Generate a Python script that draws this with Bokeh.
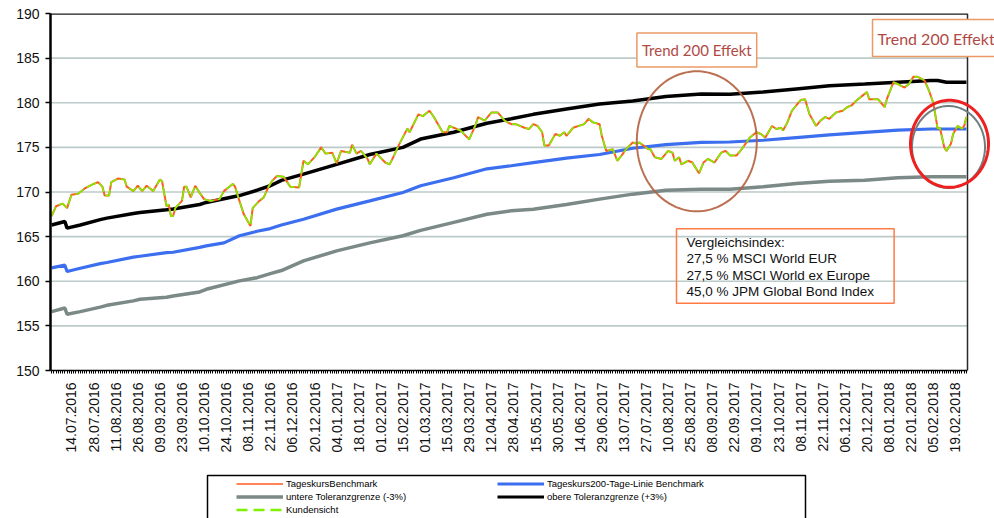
import numpy as np
from bokeh.plotting import figure
from bokeh.layouts import column
from bokeh.models import Range1d, FixedTicker, Legend, LegendItem, Label, PolyAnnotation
from bokeh.embed import file_html
from bokeh.resources import INLINE

# ---------------- data ----------------
tick_labels = ["14.07.2016", "28.07.2016", "11.08.2016", "26.08.2016", "09.09.2016", "23.09.2016",
               "10.10.2016", "24.10.2016", "08.11.2016", "22.11.2016", "06.12.2016", "20.12.2016",
               "04.01.2017", "18.01.2017", "01.02.2017", "15.02.2017", "01.03.2017", "15.03.2017",
               "29.03.2017", "12.04.2017", "28.04.2017", "15.05.2017", "30.05.2017", "14.06.2017",
               "29.06.2017", "13.07.2017", "27.07.2017", "10.08.2017", "25.08.2017", "08.09.2017",
               "22.09.2017", "09.10.2017", "23.10.2017", "08.11.2017", "22.11.2017", "06.12.2017",
               "20.12.2017", "08.01.2018", "22.01.2018", "05.02.2018", "19.02.2018"]
N_DAYS = 415            # trading days on the category axis
FIRST_LABEL_DAY = 9     # trading day of the first date label
LABEL_EVERY = 10        # a date label every 10 trading days

bench_day = [0, 2, 5, 7, 9, 12, 15, 19, 21, 23, 24, 26, 27, 30, 33, 34, 37, 39, 41, 43, 46, 49, 50,
             52, 53, 54, 55, 56, 59, 60, 61, 63, 65, 67, 69, 72, 76, 78, 82, 83, 85, 87, 90, 91, 94,
             96, 98, 100, 102, 105, 108, 112, 114, 116, 119, 122, 124, 127, 129, 131, 135, 136, 138,
             140, 143, 144, 147, 151, 153, 155, 157, 161, 162, 166, 168, 171, 173, 177, 179, 180, 185,
             189, 192, 193, 196, 199, 202, 205, 208, 210, 214, 216, 218, 220, 222, 223, 225, 228, 230,
             232, 233, 236, 241, 243, 245, 248, 249, 251, 254, 256, 258, 260, 263, 265, 266, 270, 271,
             273, 276, 279, 281, 282, 284, 285, 288, 290, 291, 293, 295, 297, 300, 303, 305, 307, 310,
             312, 314, 316, 319, 321, 323, 326, 328, 330, 331, 333, 335, 337, 339, 341, 343, 346, 348,
             350, 352, 355, 358, 360, 362, 364, 367, 369, 370, 374, 377, 378, 381, 383, 386, 388, 390,
             392, 395, 397, 399, 401, 402, 404, 405, 407, 408, 410, 412, 413, 414]
bench_val = [167.3, 168.4, 168.7, 168.2, 169.7, 169.8, 170.4, 170.9, 171.1, 170.6, 169.6, 169.6, 171.1,
             171.5, 171.4, 170.6, 170.1, 170.7, 170.1, 170.7, 170.1, 171.4, 171.2,
             168.4, 168.6, 167.3, 167.3, 168.2, 169.0, 170.6, 170.6, 169.4, 170.7, 169.9, 169.2, 169.0,
             169.2, 170.1, 170.9, 170.6, 169.0, 167.5, 166.2, 168.2, 169.0,
             169.4, 170.5, 171.3, 171.8, 171.7, 170.6, 170.5, 173.5, 173.1, 173.9, 175.0, 174.3, 174.4,
             173.2, 174.6, 174.4, 175.3, 174.3,
             174.6, 173.7, 173.1, 174.3, 173.3, 173.1, 174.1, 175.2, 177.1, 176.7, 178.7, 178.5, 179.1,
             178.4, 176.7, 176.7, 177.4, 176.9,
             175.9, 177.6, 178.4, 178.0, 178.9, 178.9, 178.0, 177.6, 177.6, 177.2, 177.05, 177.6, 177.4,
             176.7, 175.2, 175.2, 176.5, 176.3,
             176.7, 176.3, 177.2, 177.6, 178.2, 177.8, 177.6, 176.3, 174.6, 174.8, 173.5, 174.1, 174.8,
             175.55, 175.4, 175.55, 174.8, 174.8,
             173.9, 173.7, 174.6, 174.4, 173.5, 173.9, 173.1, 173.5, 173.3, 172.9, 172.1, 173.3, 173.7,
             173.3, 174.4, 174.6, 174.1, 174.1,
             174.7, 175.4, 176.1, 176.7, 176.5, 176.1, 177.4, 177.06, 177.2, 176.9, 177.8, 179.1, 179.7,
             180.3, 180.4, 178.7, 177.4, 178.0,
             178.4, 178.2, 178.9, 179.1, 179.5, 179.7, 180.2, 180.8, 181.2, 180.4, 180.4, 179.5, 180.4,
             182.3, 182.1, 181.7, 182.1, 182.9,
             182.9, 182.5, 181.4, 180.0, 177.1, 177.2, 175.0, 174.6, 175.4, 176.5, 177.4, 177.1, 177.4,
             178.4]

kunden_day = bench_day      # Kundensicht lies on top of the benchmark
kunden_val = bench_val

ma_day = [0, 6, 7, 13, 22, 25, 37, 40, 52, 55, 67, 70, 78, 85, 93, 99, 104, 114, 129, 144, 159, 167,
          182, 197, 208, 218, 233, 248, 263, 278, 294, 307, 322, 337, 352, 368, 383, 398, 414]
ma_val = [161.5, 161.8, 161.1, 161.46, 161.98, 162.1, 162.7, 162.8, 163.2, 163.25, 163.8, 163.97,
          164.3, 165.09, 165.6, 165.9, 166.3, 166.95, 168.08, 169.0, 169.95, 170.7, 171.6, 172.6,
          172.94, 173.3, 173.8, 174.2, 174.9, 175.3, 175.55, 175.6, 175.8, 176.1, 176.4, 176.68,
          176.94, 177.06, 177.06]

upper_day = [0, 6, 7, 13, 22, 25, 37, 40, 52, 55, 67, 70, 85, 93, 99, 104, 114, 129, 144, 159, 167,
             182, 197, 208, 218, 233, 248, 263, 278, 294, 307, 322, 337, 352, 368, 383, 398, 401, 405, 414]
upper_val = [166.3, 166.7, 165.95, 166.3, 166.9, 167.07, 167.6, 167.7, 168.0, 168.1, 168.6, 168.83,
             169.6, 170.2, 170.7, 171.3, 172.0, 173.1, 174.2, 175.0, 175.93, 176.7, 177.7, 178.2,
             178.7, 179.3, 179.86, 180.2, 180.7, 180.98, 180.95, 181.2, 181.55, 181.9, 182.1, 182.3,
             182.5, 182.5, 182.3, 182.3]

lower_day = [0, 6, 7, 13, 22, 25, 37, 40, 52, 55, 67, 70, 85, 93, 99, 104, 114, 129, 144, 159, 167,
             182, 197, 208, 218, 233, 248, 263, 278, 294, 307, 322, 337, 352, 368, 383, 398, 414]
lower_val = [156.6, 157.0, 156.3, 156.6, 157.1, 157.3, 157.8, 157.98, 158.2, 158.35, 158.8, 159.1,
             160.04, 160.4, 160.86, 161.2, 162.28, 163.4, 164.3, 165.1, 165.7, 166.6, 167.5, 167.9,
             168.07, 168.6, 169.2, 169.76, 170.2, 170.3, 170.32, 170.6, 170.96, 171.2, 171.33, 171.6,
             171.7, 171.7]

y_ticks = [150, 155, 160, 165, 170, 175, 180, 185, 190]

legend_labels = ["TageskursBenchmark", "Tageskurs200-Tage-Linie Benchmark",
                 "untere Toleranzgrenze (-3%)", "obere Toleranzgrenze (+3%)", "Kundensicht"]
note_lines = ["Vergleichsindex:", "27,5 % MSCI World EUR", "27,5 % MSCI World ex Europe",
              "45,0 % JPM Global Bond Index"]
trend_text = "Trend 200 Effekt"

# ---------------- layout ----------------
W = 994
H_MAIN, H_LEG = 470, 48
LEFT, TOP = 50, 13
PLOT_W, FRAME_H = 917, 357          # width of the drawn chart area, frame height
FRAME_W = W - LEFT                  # frame runs to the right edge so call-outs can overflow
BOTTOM = H_MAIN - TOP - FRAME_H
Y0, Y1 = 150, 190
PX_PER_DAY = PLOT_W / N_DAYS
X_START, X_END = -0.5, N_DAYS - 0.5

C_BENCH, C_KUNDE, C_MA, C_LOW, C_UP = "#ff5a1f", "#7ff000", "#3b6ff0", "#7b8987", "black"


def px2x(px):
    return (px - LEFT) / PX_PER_DAY - 0.5


def py2y(py):
    return Y1 - (py - TOP) * (Y1 - Y0) / FRAME_H


p = figure(width=W, height=H_MAIN, output_backend="svg", toolbar_location=None,
           x_range=Range1d(X_START, X_START + FRAME_W / PX_PER_DAY), y_range=Range1d(Y0, Y1),
           min_border_left=LEFT, min_border_right=0, min_border_top=TOP,
           min_border_bottom=BOTTOM)
p.background_fill_color = "white"
p.border_fill_color = "white"
p.outline_line_color = None

# axes
label_day = [FIRST_LABEL_DAY + LABEL_EVERY * i for i in range(len(tick_labels))]
p.xaxis.bounds = (X_START, X_END)
p.xaxis.ticker = FixedTicker(ticks=label_day, minor_ticks=list(range(N_DAYS)))
p.xaxis.major_label_overrides = {d: t for d, t in zip(label_day, tick_labels)}
p.xaxis.major_label_orientation = np.pi / 2
p.xaxis.major_label_text_font = "Liberation Sans"
p.xaxis.major_label_text_font_size = "14px"
p.xaxis.major_label_text_color = "#111111"
p.xaxis.major_label_standoff = 9
p.xaxis.major_tick_in = 0
p.xaxis.major_tick_out = 3
p.xaxis.minor_tick_in = 0
p.xaxis.minor_tick_out = 3
p.xaxis.major_tick_line_color = "black"
p.xaxis.minor_tick_line_color = "black"
p.xaxis.axis_line_color = "black"
p.xaxis.axis_line_width = 1.5

p.yaxis.ticker = FixedTicker(ticks=y_ticks, minor_ticks=[])
p.yaxis.major_label_text_font = "Liberation Sans"
p.yaxis.major_label_text_font_size = "14px"
p.yaxis.major_label_text_color = "#111111"
p.yaxis.major_label_standoff = 6
p.yaxis.major_tick_in = 0
p.yaxis.major_tick_out = 5
p.yaxis.major_tick_line_width = 1.5
p.yaxis.axis_line_width = 2.5
p.yaxis.axis_line_color = "black"

# grid lines and chart border limited to the chart area
p.grid.visible = False
inner = y_ticks[1:-1]
p.segment(x0=[X_START] * len(inner), y0=inner, x1=[X_END] * len(inner), y1=inner,
          line_color="#bccbc9", line_width=1.6)
p.segment(x0=[X_START], y0=[Y1], x1=[X_END], y1=[Y1], line_color="#1a1a1a", line_width=2.5)
p.segment(x0=[X_END], y0=[Y0], x1=[X_END], y1=[Y1], line_color="#2a2a2a", line_width=1.5)

# series
p.line(lower_day, lower_val, line_color=C_LOW, line_width=3.5)
p.line(ma_day, ma_val, line_color=C_MA, line_width=3.2)
p.line(upper_day, upper_val, line_color=C_UP, line_width=3.5)
p.line(bench_day, bench_val, line_color=C_BENCH, line_width=2)
p.line(kunden_day, kunden_val, line_color=C_KUNDE, line_width=1.6, line_dash="10 4")

# comparison index note (box anchored at its top-left corner)
p.add_layout(Label(x=px2x(676), y=py2y(228.3), text="\n".join(note_lines),
                   text_align="left", text_baseline="top", text_font="Liberation Sans",
                   text_font_size="13.5px", text_color="#111111", text_line_height=1.1,
                   border_line_color="#ff7a45", border_line_width=1.5,
                   background_fill_alpha=0,
                   padding=dict(left=10, right=20, top=6, bottom=4)))

# "Trend 200 Effekt" call-outs
p.add_layout(Label(x=px2x(696.3), y=py2y(49.5), text=trend_text, text_align="center",
                   text_baseline="middle", text_font="Lato", text_font_size="15px",
                   text_color="#b04a45", border_line_color="#eb9a66", border_line_width=1.5,
                   background_fill_color="white",
                   padding=dict(left=5, right=5, top=8, bottom=8)))
p.add_layout(Label(x=px2x(872), y=py2y(37.5), text=trend_text, text_align="left",
                   text_baseline="middle", text_font="Lato", text_font_size="16px",
                   text_color="#b04a45", border_line_color="#eb9a66", border_line_width=1.5,
                   background_fill_color="white",
                   padding=dict(left=5, right=30, top=9, bottom=9)))


def ellipse(cx, cy, rx, ry):
    t = np.linspace(0, 2 * np.pi, 145)
    return [px2x(v) for v in cx + rx * np.cos(t)], [py2y(v) for v in cy + ry * np.sin(t)]


ex, ey = ellipse(696.3, 140.8, 60, 70)
p.add_layout(PolyAnnotation(xs=ex, ys=ey, line_color="#b5603f", line_alpha=0.9, line_width=2,
                            fill_color=None, fill_alpha=0))
gx, gy = ellipse(948, 146.5, 36.5, 41)
p.add_layout(PolyAnnotation(xs=gx, ys=gy, line_color="#6f7f80", line_alpha=1, line_width=2,
                            fill_color=None, fill_alpha=0))
cx_, cy_ = ellipse(949, 143.3, 39, 43.5)
p.add_layout(PolyAnnotation(xs=cx_, ys=cy_, line_color="#ee2020", line_alpha=1, line_width=3,
                            fill_color=None, fill_alpha=0))

# ---------------- legend strip ----------------
# its frame is aligned with the chart frame (starts at x = LEFT); ranges are page pixels
leg = figure(width=W, height=H_LEG, output_backend="svg", toolbar_location=None,
             x_range=Range1d(LEFT, W), y_range=Range1d(H_MAIN + H_LEG, H_MAIN),
             x_axis_type=None, y_axis_type=None, min_border=0)
leg.outline_line_color = None
leg.background_fill_color = "white"
leg.border_fill_color = "white"
leg.quad(left=[207], right=[805], top=[475], bottom=[540], fill_color=None,
         line_color="black", line_width=1.5)

# key renderers: same series, but outside this strip's range, so only the keys show
k_bench = leg.line(bench_day, bench_val, line_color=C_BENCH, line_width=1.7)
k_ma = leg.line(ma_day, ma_val, line_color=C_MA, line_width=3.2)
k_lower = leg.line(lower_day, lower_val, line_color=C_LOW, line_width=3.5)
k_upper = leg.line(upper_day, upper_val, line_color=C_UP, line_width=3.2)
k_kunden = leg.line(kunden_day, kunden_val, line_color=C_KUNDE, line_width=2.5, line_dash="11 6")

legend = Legend(items=[
    LegendItem(label=legend_labels[0], renderers=[k_bench]),
    LegendItem(label=legend_labels[2], renderers=[k_lower]),
    LegendItem(label=legend_labels[4], renderers=[k_kunden]),
    LegendItem(label=legend_labels[1], renderers=[k_ma]),
    LegendItem(label=legend_labels[3], renderers=[k_upper]),
], orientation="vertical", nrows=3)
legend.location = (234 - LEFT, 0)
legend.padding = 2
legend.spacing = 0
legend.margin = 0
legend.glyph_width = 47
legend.glyph_height = 13
legend.label_height = 13
legend.label_width = 211
legend.label_standoff = 3
legend.label_text_font = "Liberation Sans"
legend.label_text_font_size = "9.5px"
legend.label_text_color = "black"
legend.border_line_alpha = 0
legend.background_fill_alpha = 0
leg.add_layout(legend, "center")

open("out.html", "w").write(file_html(column(p, leg, spacing=0), INLINE))
